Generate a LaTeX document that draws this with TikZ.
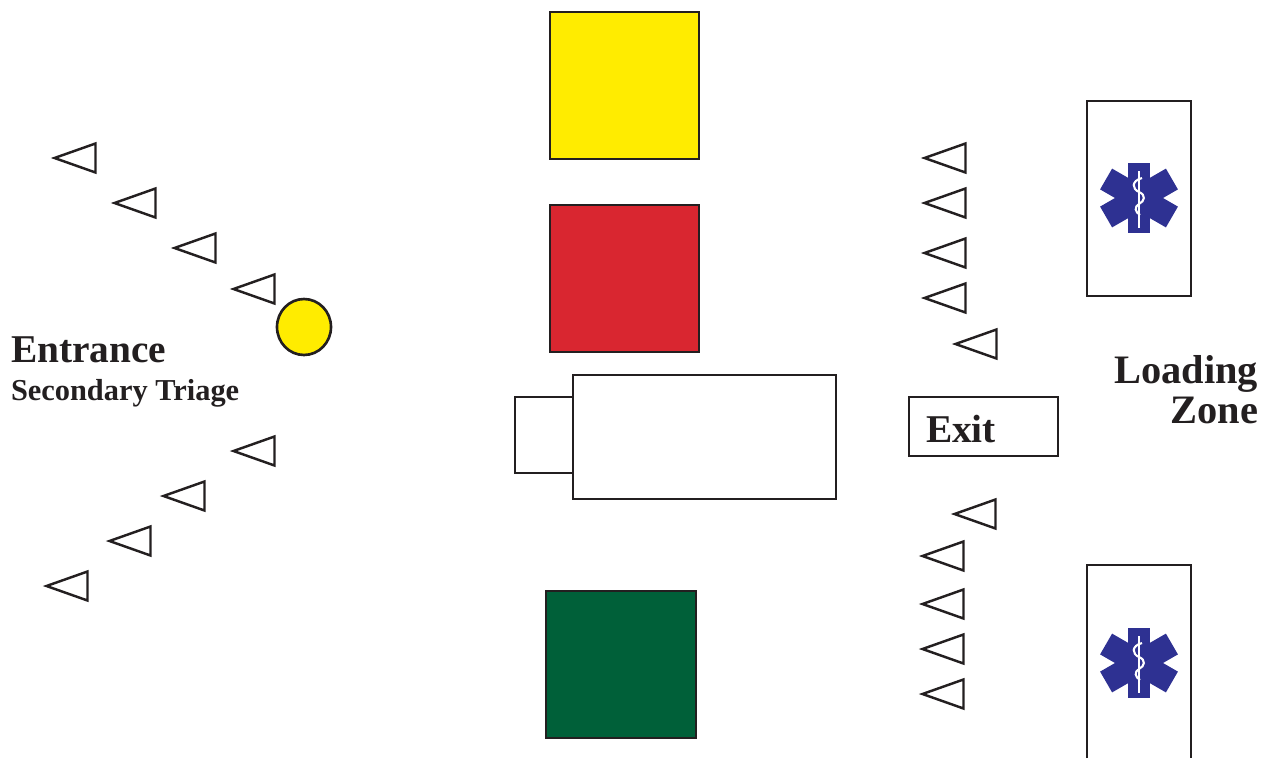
\documentclass[tikz,border=0pt]{standalone}
\usepackage{fontspec}
\setmainfont{Liberation Serif}
\definecolor{inkline}{HTML}{231F20}
\definecolor{zoneyellow}{HTML}{FFEC00}
\definecolor{zonered}{HTML}{D92630}
\definecolor{zonegreen}{HTML}{006039}
\definecolor{starblue}{HTML}{2E3192}
\begin{document}
\begin{tikzpicture}[x=0.02cm, y=-0.02cm, line join=miter,
    zone/.style={draw=inkline, line width=1.5pt},
    marker/.style={draw=inkline, line width=1.4pt, fill=white},
    biglabel/.style={inner sep=0pt, outer sep=0pt, text=inkline, font=\fontsize{22.4}{24}\selectfont\bfseries},
    loadlabel/.style={biglabel, font=\fontsize{23}{24}\selectfont\bfseries},
    smalllabel/.style={inner sep=0pt, outer sep=0pt, text=inkline, font=\fontsize{17.3}{18}\selectfont\bfseries},
    cone/.pic={\draw[marker] (1.5,0) -- (42.5,-14.5) -- (42.5,14.5) -- cycle;},
    starlife/.pic={
      \fill[starblue] (-11,-35) rectangle (11,35);
      \foreach \ang in {60,120}
        \fill[starblue, rotate=\ang] (-12,-38) rectangle (12,38);
      \draw[white, line width=1.3pt] (0,-27) -- (0,30);
      \draw[white, line width=1.2pt] (3,-20) .. controls (-8,-17) and (-7,-9) .. (0,-6)
        .. controls (7,-3) and (6,3) .. (0,6) .. controls (-5,9) and (-4,14) .. (1,17);
    }]
  \useasboundingbox (0,0) rectangle (1275,758);
  % treatment zones
  \draw[zone, fill=zoneyellow] (550,12) rectangle (699,159);
  \draw[zone, fill=zonered] (550,205) rectangle (699,352);
  \draw[zone, fill=zonegreen] (546,591) rectangle (696,738);
  \draw[zone] (515,397) rectangle (573,473);
  \draw[zone] (573,375) rectangle (836,499);
  % ambulances
  \draw[zone] (1087,101) rectangle (1191,296);
  \draw[zone] (1087,758) -- (1087,565) -- (1191,565) -- (1191,758);
  \pic at (1139,198) {starlife};
  \pic at (1139,663) {starlife};
  % triage point
  \draw[zone, fill=zoneyellow] (304,327) ellipse [x radius=27, y radius=28];
  % cones, left side
  \foreach \px/\py in {53/158,113/203,173/248,232/289,232/451,162/496,108/541,45/586}
    \pic at (\px,\py) {cone};
  % cones, right side
  \foreach \px/\py in {923/158,923/203,923/253,923/298,954/344,953/514,921/556,921/604,921/649,921/694}
    \pic at (\px,\py) {cone};
  \draw[zone] (909,397) rectangle (1058,456);
  \node[biglabel, anchor=base west] (exit) at (926,442) {Exit};
  \node[biglabel, anchor=base west] (entrance) at (11,362) {Entrance};
  \node[smalllabel, anchor=base west] (triage) at (11,400) {Secondary Triage};
  \node[loadlabel, anchor=base east] (loading) at (1258,383) {Loading};
  \node[loadlabel, anchor=base east] (loadzone) at (1258,423) {Zone};
\end{tikzpicture}
\end{document}
